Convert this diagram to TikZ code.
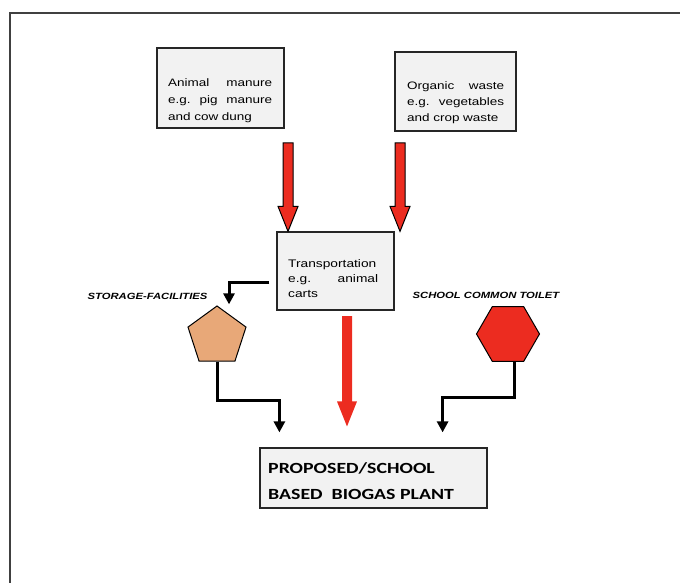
\documentclass[tikz,border=0pt]{standalone}
\usepackage{fontspec}
\setmainfont{Liberation Sans}[FakeStretch=1.25]
\newfontfamily\plantfont{Carlito}[FakeStretch=1.28]
\usetikzlibrary{shapes.geometric,arrows.meta,calc,positioning}
\definecolor{boxgray}{RGB}{242,242,242}
\definecolor{arrowred}{RGB}{236,44,32}
\definecolor{pentagontan}{RGB}{232,168,120}
\tikzset{
  srcbox/.style={draw=black!85,line width=1.5pt,fill=boxgray,inner sep=0pt},
  boxtext/.style={inner sep=0pt,anchor=north west,align=left},
  tag/.style={inner sep=0pt,font=\fontsize{9}{9}\selectfont\bfseries\itshape},
  flow/.style={line width=3pt,-{Triangle[width=11pt,length=11pt]}},
  fat/.style={fill=arrowred,draw=black,line width=1pt,line join=miter}
}
\newcommand{\fatarrow}[3][]{%
  \filldraw[fat,#1] ($(#2)+(-5,0)$) -- ($(#3)+(-5,-25)$) -- ($(#3)+(-10,-25)$)
    -- (#3) -- ($(#3)+(10,-25)$) -- ($(#3)+(5,-25)$) -- ($(#2)+(5,0)$) -- cycle;}
\begin{document}
\begin{tikzpicture}[x=1pt,y=-1pt]
  \useasboundingbox (0,0) rectangle (680,583);
  \draw[line width=1.5pt,black!75] (10,600) -- (10,13) -- (700,13);

  % sources
  \node[srcbox,minimum width=127pt,minimum height=80pt] (manure) at (220.5,88) {};
  \node[boxtext,text width=104pt,font=\fontsize{10.8}{17}\selectfont] (manuretxt) at (168,78)
    {Animal\hfill manure\\e.g.\hfill pig\hfill manure\\and cow dung};
  \node[srcbox,minimum width=121pt,minimum height=79pt] (waste) at (455.5,91.5) {};
  \node[boxtext,text width=97pt,font=\fontsize{10.8}{16}\selectfont] (wastetxt) at (407,81)
    {Organic\hfill waste\\e.g.\hfill vegetables\\and crop waste};

  % transport
  \node[srcbox,line width=1.2pt,minimum width=117pt,minimum height=78pt] (transport) at (335.5,271) {};
  \node[boxtext,text width=90pt,font=\fontsize{11}{15}\selectfont] (transporttxt) at (288,259)
    {Transportation\\e.g.\hfill animal\\carts};

  % storage and toilet
  \node[tag] (storagetag) at (147.5,296) {STORAGE-FACILITIES};
  \node[regular polygon,regular polygon sides=5,minimum size=61pt,inner sep=0pt,
        draw=black,line width=1pt,fill=pentagontan] (storage) at (217,336.5) {};
  \node[tag] (toilettag) at (486,295) {SCHOOL COMMON TOILET};
  \node[regular polygon,regular polygon sides=6,minimum size=63pt,inner sep=0pt,
        draw=black,line width=1pt,fill=arrowred] (toilet) at (508,334) {};

  % plant
  \node[srcbox,line width=1.2pt,minimum width=227pt,minimum height=60pt] (plant) at (373.5,478) {};
  \node[boxtext,font=\plantfont\bfseries\fontsize{15.5}{26}\selectfont] (planttxt) at (268,462)
    {PROPOSED/SCHOOL\\BASED~~BIOGAS PLANT};

  % red arrows
  \coordinate (a1) at (288,143);
  \coordinate (a2) at (400,143);
  \coordinate (a3) at (347,316);
  \fatarrow{a1}{a1 |- transport.north}
  \fatarrow{a2}{a2 |- transport.north}
  \fatarrow[draw=none]{a3}{$(a3 |- plant.north)+(0,-21)$}

  % black connectors
  \draw[flow] ($(transport.west)+(-7,11)$) -| ($(storage.north)+(12,-1)$);
  \draw[flow] (storage.south) -- ++(0,39) -| ($(plant.north west)+(20,-15)$);
  \draw[flow] ($(toilet.south)+(6,0)$) -- ++(0,36) -| ($(plant.north east)+(-45,-15)$);
\end{tikzpicture}
\end{document}
